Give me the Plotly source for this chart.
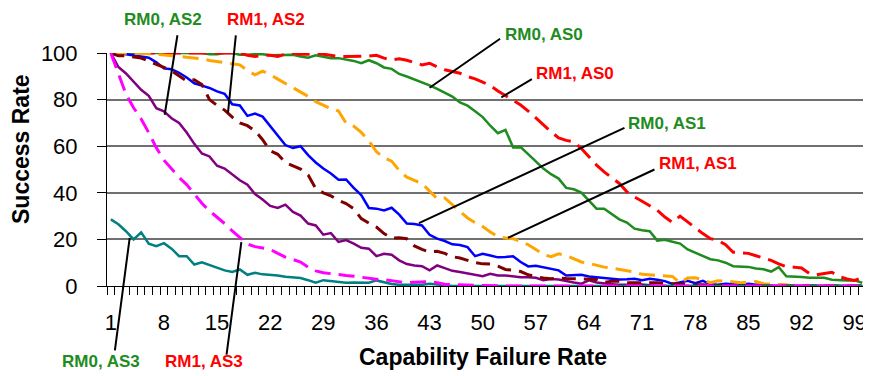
import plotly.graph_objects as go

categories = list(range(1, 101))
tick_values = [1, 8, 15, 22, 29, 36, 43, 50, 57, 64, 71, 78, 85, 92, 99]
tick_labels = [str(v) for v in tick_values]
y_ticks = [0, 20, 40, 60, 80, 100]

rm0_as0 = [100]*13 + [99.5, 99.5, 100, 100, 99.3, 99.2, 99.5, 99.5, 99, 99, 99.2,
    99.2, 98.5, 98, 99, 98.5, 97.8, 97.8, 97.3, 96.6, 95.6, 96.9, 95.6, 93.8, 93.2, 91, 89.9,
    88.7, 87.3, 86.1, 84.6, 83, 81.3, 78.8, 77.4, 75, 72.5, 68.8, 65.6, 67, 59.5, 59.6, 56.5,
    53.3, 50.4, 48, 46.1, 42.1, 41.5, 40.1, 36.8, 33.2, 33.2, 31, 28.6, 27.2, 24.6, 23.9, 23.5,
    19.5, 19.8, 19, 18.2, 15.7, 14.3, 12.8, 11.5, 11, 10, 8.5, 8.5, 8.2, 7.5, 7.2, 6.2, 8.1,
    4.2, 4.2, 3.9, 3.5, 3.5, 3.5, 2.7, 2.4, 2.4, 2.4, 1.4]

rm1_as0 = [100]*18 + [99, 98.5, 99, 99, 98.5, 99.5, 100, 99.5, 99.5, 100, 99.5, 99,
    98.5, 98.5, 98.5, 98.5, 98.7, 99, 97.8, 97, 97.5, 96.9, 96, 94.9, 95.6, 94, 92.8, 92, 91.3,
    89.9, 88.9, 87.5, 86, 83.7, 81.7, 79.9, 77.7, 75.1, 72, 69, 66.2, 63.6, 62.5, 61.9, 59,
    55.5, 51.9, 49, 46.4, 44, 40.4, 38.2, 36.4, 34.6, 32.5, 29.6, 27.3, 30, 27.5, 24.6, 22.5,
    20.3, 19.6, 17.7, 14.5, 14.3, 14, 13, 12, 11, 9.5, 8.3, 8.1, 7.7, 5.5, 4.8, 5.4, 5.9, 4,
    3, 2.4, 3.5]

rm0_as1 = [100, 100, 99.5, 99, 98.5, 98, 96, 93.4, 93, 91.5, 89.5, 87, 86, 85, 83.5, 82.5,
    78, 77.5, 73, 74, 72.7, 68.8, 64.5, 60.5, 59.2, 60, 56.2, 53, 50.4, 48.3, 45.6, 45.7, 42.1,
    39, 33.5, 33.2, 32.4, 33.6, 30.6, 26.8, 26.6, 26, 22, 20.3, 19.3, 17.9, 17.6, 16.7, 12.8,
    13.8, 13.1, 12.3, 12.4, 12.8, 10.3, 8.4, 8.7, 8.1, 7.5, 6.7, 4.5, 4.5, 4.8, 4.1, 3.8, 3.4,
    3.1, 2.8, 2.9, 3.1, 2.5, 3.1, 2.7, 2.1, 0.9, 1.5, 2.2, 1.2, 2.2, 0.8, 0.5, 1, 0.8, 0.5, 1,
    0.5, 0.8] + [0]*13

rm1_as1 = [100, 100, 100, 100, 100, 99.7, 99.4, 99.2, 99, 98.5, 98.2, 97.9, 97.5, 96.8, 96.4,
    96, 95.5, 94.9, 92.5, 90.6, 92.2, 90.8, 88.8, 86.9, 85.1, 83.2, 81.4, 79.1, 77.7, 76.1,
    75.1, 69.9, 68.6, 65.9, 62.3, 57.6, 55, 53.6, 49.6, 46.7, 45.3, 44, 40.7, 37.5, 37.8, 34.9,
    32.1, 29.2, 27.2, 25.5, 23.2, 21.2, 20.6, 20.3, 19.2, 17.7, 15.7, 13.5, 12.6, 13.8, 13.1,
    11.7, 10.3, 9.7, 8.8, 8.1, 7.7, 7.2, 6.7, 6, 5, 4.7, 4.5, 4.4, 4.1, 1.4, 3.4, 3.5, 2.7,
    1.4, 2.2, 2.1, 1.6, 1.4, 1.6, 1.9, 1, 0.9, 0.5, 0.5] + [0]*10

rm0_as2 = [100, 94, 91.2, 87.5, 84.2, 81.6, 76.3, 75, 72, 70, 65.9, 61, 56.9, 55.6, 51.6,
    50.4, 48, 45.4, 43.5, 39.5, 37.1, 34.4, 33.5, 34.9, 31.8, 30.2, 26.8, 26, 22, 22.7, 18.9,
    19.7, 18.2, 16.4, 16, 12.8, 13.8, 13.4, 11, 9.4, 8.8, 8.5, 6.7, 8.8, 7.7, 6.5, 6, 5.5, 4.8,
    4.2, 5.2, 4.5, 4.5, 4, 3.8, 3.8, 3.5, 2.5, 3, 2.8, 2, 1.5, 1, 2.4, 1.5, 1, 0.8, 0.5, 0.5,
    1, 0.5, 0.3] + [0]*28

rm1_as2 = [100, 98.8, 98.8, 98.3, 97.8, 96.5, 95.3, 93.8, 92.4, 90.2, 88, 88.5, 86.5, 80,
    77.5, 75.5, 72.5, 70, 68.8, 66.6, 62.8, 58, 56.5, 53, 51.6, 50.2, 47.6, 41.8, 40, 38.7,
    36.8, 35.4, 33.2, 28.9, 27, 25.3, 22.5, 20.6, 20.7, 20.3, 17.2, 15.7, 14.6, 14.9, 14, 12.6,
    12, 11, 10, 9.5, 9.4, 8.5, 7.1, 6.8, 6.2, 4.8, 4, 3.4, 3.1, 3.4, 3.2, 3.1, 3.1, 3.1, 2.8,
    1.6, 2, 2, 1.4, 1.4, 1.5, 1.6, 1.4, 1.1, 0.9, 0.8, 0.6, 0.5, 0.5, 0.3] + [0]*20

rm0_as3 = [28.6, 26.5, 23.5, 20, 23, 18.2, 17.1, 18.4, 16, 12.8, 12.8, 9.2, 10.2, 9, 7.8,
    6.7, 6, 7.1, 4.8, 5.7, 5, 4.8, 4.5, 4, 3.7, 3.4, 2.5, 1.4, 2.5, 2.2, 2, 1.4, 1.5, 1.4, 1.4,
    2.4, 1.5, 0.9, 0.5, 0.5, 0.3, 0.5, 1, 0.5, 0.3] + [0]*55

rm1_as3 = [100, 91.3, 82.3, 76.5, 71.7, 65.8, 59.3, 54, 50.4, 46.6, 43.5, 39.4, 35.5, 32.2,
    29.6, 26.8, 23.6, 21, 18, 16.9, 16.4, 15.7, 14, 12.4, 11.4, 10.3, 8.1, 6.5, 5.7, 5.2, 4.8,
    4.5, 4.2, 3.8, 3.1, 2.9, 2.7, 2.2, 1.6, 1.4, 1.6, 1.8, 1.9, 1.4, 0.8, 0.6, 0.5, 0.5,
    0.3] + [0]*51

series = [
    ("RM0, AS0", rm0_as0, "#1E8C1E", "solid", 2.5),
    ("RM1, AS0", rm1_as0, "#FF0000", "18px,8px", 3),
    ("RM0, AS1", rm0_as1, "#0000FF", "solid", 2.5),
    ("RM1, AS1", rm1_as1, "#FFA500", "16px,8px", 3),
    ("RM0, AS2", rm0_as2, "#800080", "solid", 2.5),
    ("RM1, AS2", rm1_as2, "#800000", "14px,8px", 3),
    ("RM0, AS3", rm0_as3, "#008080", "solid", 2.5),
    ("RM1, AS3", rm1_as3, "#FF00FF", "16px,8px", 3),
]

FONT = "Liberation Sans, Arial, sans-serif"
GREEN = "#1E8C1E"
RED = "#FF0000"

fig = go.Figure()
for name, vals, color, dash, w in series:
    fig.add_trace(go.Scatter(x=categories, y=vals, mode="lines", name=name,
                             line=dict(color=color, width=w, dash=dash)))

# leader lines: (head x, head y in data units, tail offset in px)
leaders = [
    (8.1, 73.5, 13, -81),
    (16.44, 74.3, 8, -79),
    (43.0, 85.1, 72, -50),
    (52.46, 81.0, 32, -19),
    (41.6, 27.0, 207, -96),
    (53.33, 20.7, 148, -69),
    (3.49, 20.7, -15, 114),
    (18.2, 18.8, -15, 114),
]
annotations = []
for hx, hy, ox, oy in leaders:
    annotations.append(dict(x=hx, y=hy, xref="x", yref="y", text="", showarrow=True,
                            arrowhead=0, arrowwidth=2, arrowcolor="black", ax=ox, ay=oy))

labels = [
    ("RM0, AS2", GREEN, 0.0735, 1.145),
    ("RM1, AS2", RED, 0.209, 1.145),
    ("RM0, AS0", GREEN, 0.5758, 1.0815),
    ("RM1, AS0", RED, 0.616, 0.913),
    ("RM0, AS1", GREEN, 0.7378, 0.698),
    ("RM1, AS1", RED, 0.778, 0.5266),
    ("RM0, AS3", GREEN, -0.0075, -0.325),
    ("RM1, AS3", RED, 0.1278, -0.325),
]
for txt, col, xp, yp in labels:
    annotations.append(dict(x=xp, y=yp, xref="paper", yref="paper", text="<b>%s</b>" % txt,
                            showarrow=False, xanchor="center", yanchor="middle",
                            font=dict(family=FONT, size=17, color=col)))

annotations.append(dict(x=-0.114, y=0.59, xref="paper", yref="paper", text="<b>Success Rate</b>",
                        showarrow=False, textangle=-90, xanchor="center", yanchor="middle",
                        font=dict(family=FONT, size=23, color="black")))
annotations.append(dict(x=0.4954, y=-0.305, xref="paper", yref="paper",
                        text="<b>Capability Failure Rate</b>", showarrow=False,
                        xanchor="center", yanchor="middle",
                        font=dict(family=FONT, size=23, color="black")))

# the page body adds an 8px offset, so the figure is 8px smaller and margins are shifted
fig.update_layout(
    width=863, height=368,
    margin=dict(l=99, r=5, t=45, b=90),
    paper_bgcolor="white", plot_bgcolor="white",
    showlegend=False,
    font=dict(family=FONT, size=22, color="black"),
    annotations=annotations,
    xaxis=dict(range=[0.5, 100.5], tickmode="array", tickvals=tick_values, ticktext=tick_labels,
               ticks="", showgrid=False, zeroline=False, showline=True, linecolor="black",
               linewidth=1, ticklabelstandoff=17,
               tickfont=dict(family=FONT, size=22, color="black"),
               minor=dict(tickmode="linear", tick0=0.5, dtick=1, ticks="outside", ticklen=8,
                          tickcolor="black", tickwidth=1, showgrid=False)),
    yaxis=dict(range=[0, 100], tickmode="array", tickvals=y_ticks, ticks="outside", ticklen=9,
               tickcolor="black", tickwidth=1, showgrid=True, gridcolor="#707070", gridwidth=1.5,
               zeroline=False, showline=True, linecolor="black", linewidth=1,
               ticklabelstandoff=15, tickfont=dict(family=FONT, size=22, color="black")),
)

fig.write_html("out.html")
